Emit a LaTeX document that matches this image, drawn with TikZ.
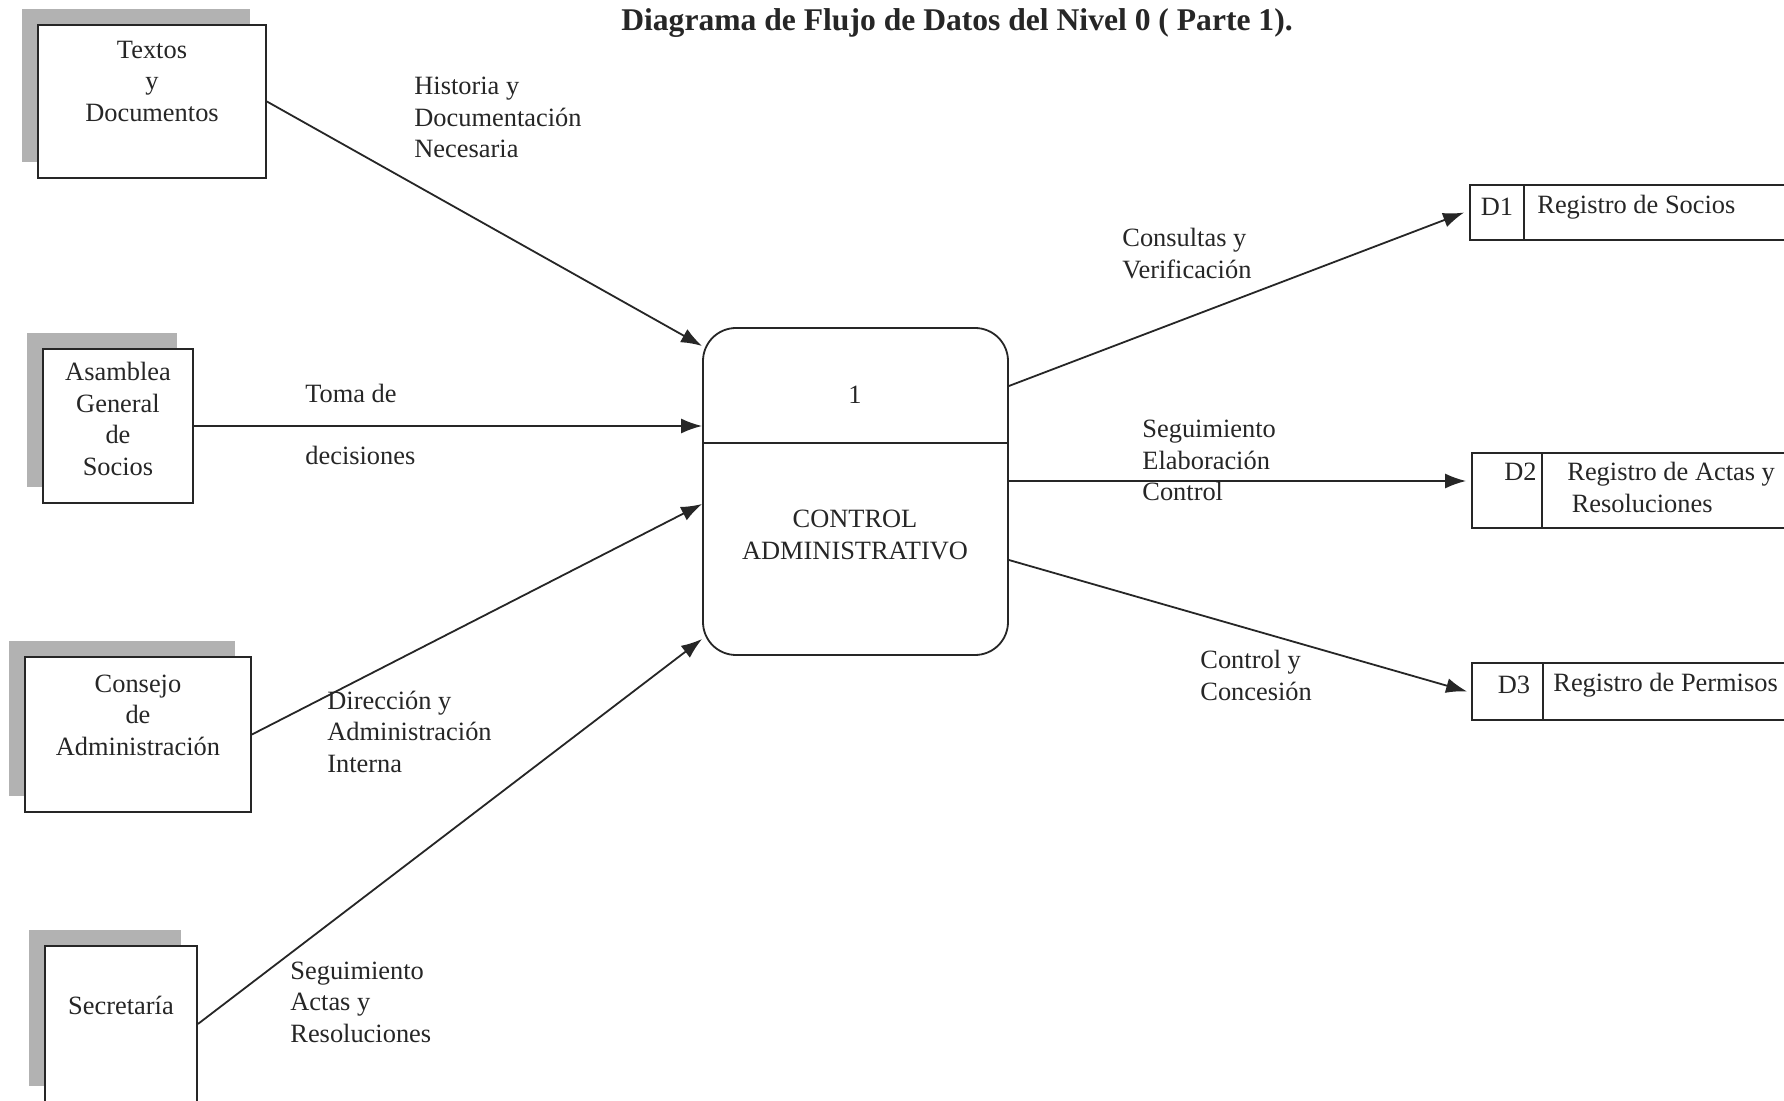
\documentclass[tikz,border=0pt]{standalone}
\usepackage{fontspec}
\setmainfont{Liberation Serif}
\usetikzlibrary{arrows.meta,shadows,calc}
\begin{document}
\begin{tikzpicture}[x=0.5pt,y=-0.5pt,
  every node/.style={font=\fontsize{13.2}{15.75}\selectfont, text=black!85},
  ent/.style={draw=black!85, line width=0.9pt, fill=white, inner sep=0pt,
    drop shadow={shadow xshift=-8pt, shadow yshift=8pt, fill=gray!60, opacity=1}},
  txt/.style={align=center, inner sep=0pt},
  proc/.style={draw=black!85, line width=0.9pt, rounded corners=16.5pt, inner sep=0pt},
  store/.style={draw=black!85, line width=0.9pt, inner sep=0pt},
  lbl/.style={anchor=west, align=left, inner sep=0pt},
  flow/.style={-{Latex[length=10.5pt,width=7.5pt]}, line width=0.9pt, draw=black!85}]
\useasboundingbox (0,0) rectangle (1784,1101);
\fill[white] (0,0) rectangle (1784,1101);

% title
\node[font=\fontsize{15.8}{18}\selectfont\bfseries, inner sep=0pt] (title) at (957,23) {Diagrama de Flujo de Datos del Nivel 0 ( Parte 1).};

% external entities
\node[ent, minimum width=114pt, minimum height=76.5pt] (tex) at (152,101.5) {};
\node[txt] (texT) at (152,81) {Textos\\y\\Documentos};
\node[ent, minimum width=75pt, minimum height=77pt] (asa) at (118,426) {};
\node[txt] (asaT) at (118,419) {Asamblea\\General\\de\\Socios};
\node[ent, minimum width=113pt, minimum height=77.5pt] (con) at (138,734.5) {};
\node[txt] (conT) at (138,715) {Consejo\\de\\Administración};
\node[ent, minimum width=76pt, minimum height=78pt] (sec) at (121,1024) {};
\node[txt] (secT) at (121,1005) {Secretaría};

% process
\node[proc, minimum width=152.5pt, minimum height=163.5pt] (proc) at (855.5,491.5) {};
\draw[draw=black!85, line width=0.9pt] (proc.west |- 0,443) -- (proc.east |- 0,443);
\node[txt] (procN) at (855,395) {1};
\node[txt] (procT) at (855,535) {CONTROL\\ADMINISTRATIVO};

% data stores
\node[store, minimum width=165pt, minimum height=27.5pt] (d1) at (1635,212.5) {};
\draw[draw=black!85, line width=0.9pt] ($(d1.north west)+(55,0)$) -- ($(d1.south west)+(55,0)$);
\node[txt] (d1a) at (1497,207) {D1};
\node[lbl] (d1b) at (1537,207) {Registro de Socios};

\node[store, minimum width=164pt, minimum height=37.5pt] (d2) at (1636,490.5) {};
\draw[draw=black!85, line width=0.9pt] ($(d2.north west)+(71,0)$) -- ($(d2.south west)+(71,0)$);
\node[txt, anchor=east] (d2a) at (1537,472) {D2};
\node[lbl] (d2b) at (1567,487.5) {Registro de Actas y\\\,Resoluciones};

\node[store, minimum width=164pt, minimum height=28.5pt] (d3) at (1636,691.5) {};
\draw[draw=black!85, line width=0.9pt] ($(d3.north west)+(72,0)$) -- ($(d3.south west)+(72,0)$);
\node[txt] (d3a) at (1514,685) {D3};
\node[lbl] (d3b) at (1553,685) {Registro de Permisos};

% flows in
\draw[flow] (tex.east) -- ([yshift=72.75pt]proc.west);
\draw[flow] (asa.east) -- ([yshift=32.75pt]proc.west);
\draw[flow] (con.east) -- ([yshift=-6.25pt]proc.west);
\draw[flow] (sec.east) -- ([yshift=-73.75pt]proc.west);
% flows out
\draw[flow] ([yshift=52.75pt]proc.east) -- ([xshift=-2.5pt]d1.west);
\draw[flow] ([yshift=5.25pt]proc.east) -- ([xshift=-2.5pt,yshift=4.75pt]d2.west);
\draw[flow] ([yshift=-34.25pt]proc.east) -- ([xshift=-2pt]d3.west);

% flow labels
\node[lbl] (l1) at (414,117.5) {Historia y\\Documentación\\Necesaria};
\node[lbl] (l2) at (305,424) {Toma de\\[15.25pt]decisiones};
\node[lbl] (l3) at (327,731.5) {Dirección y\\Administración\\Interna};
\node[lbl] (l4) at (290,1002) {Seguimiento\\Actas y\\Resoluciones};
\node[lbl] (l5) at (1122,253.5) {Consultas y\\Verificación};
\node[lbl] (l6) at (1142,460.5) {Seguimiento\\Elaboración\\Control};
\node[lbl] (l7) at (1200,675.5) {Control y\\Concesión};
\end{tikzpicture}
\end{document}
